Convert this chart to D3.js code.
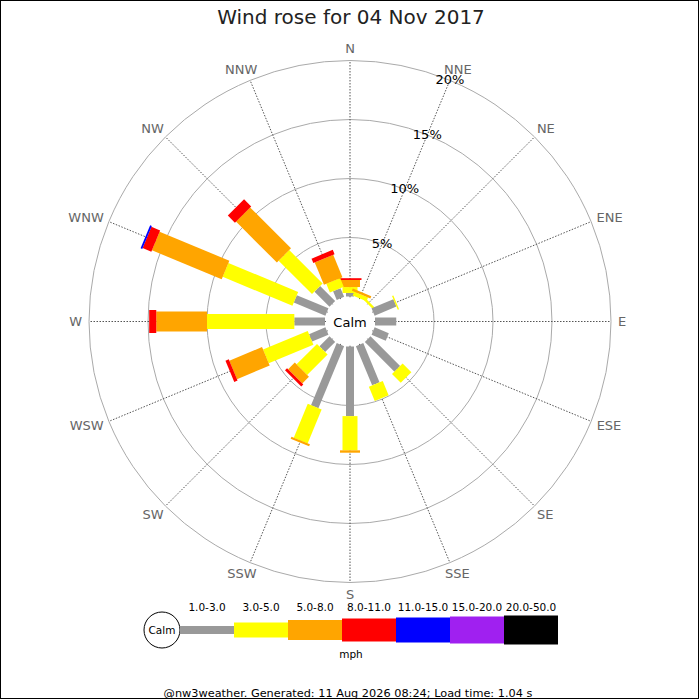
<!DOCTYPE html>
<html><head><meta charset="utf-8">
<script src="https://cdn.jsdelivr.net/npm/d3@7"></script>
<style>body{margin:0;background:#fff}svg{display:block;font-family:"DejaVu Sans",sans-serif}</style>
</head><body><svg id="c" width="700" height="700"></svg>
<script>
const directions = ["N","NNE","NE","ENE","E","ESE","SE","SSE","S","SSW","SW","WSW","W","WNW","NW","NNW"];
const speedBins = ["1.0-3.0","3.0-5.0","5.0-8.0","8.0-11.0","11.0-15.0","15.0-20.0","20.0-50.0"];
const binColors = ["#999999","#ffff00","#ffa500","#ff0000","#0000ff","#a020f0","#000000"];
const binWidths = [8,15,20,23,25,27,29];
// percentage of time per direction, per speed bin
const bin1_3   = [0.3,0,0,2.0,1.8,1.3,3.55,3.6,5.9,5.7,1.2,1.5,2.6,2.9,1.8,0.8];
const bin3_5   = [0.5,0.35,0.2,0.12,0,0,1.05,1.3,2.9,3.1,2.45,4.1,7.4,6.4,4.0,0.8];
const bin5_8   = [0.6,0.2,0,0,0,0,0,0,0.2,0.18,0.8,3.0,4.3,6.4,4.9,2.05];
const bin8_11  = [0.15,0,0,0,0,0,0,0,0,0,0.25,0.3,0.6,0.8,0.85,0.4];
const bin11_15 = [0,0,0,0,0,0,0,0,0,0,0,0,0,0.15,0,0];
const bin15_20 = [0,0,0,0,0,0,0,0,0,0,0,0,0,0,0,0];
const bin20_50 = [0,0,0,0,0,0,0,0,0,0,0,0,0,0,0,0];
const ringTicks = [5,10,15,20];
const titleText = "Wind rose for 04 Nov 2017";
const footerText = "@nw3weather. Generated: 11 Aug 2026 08:24; Load time: 1.04 s";

const series = [bin1_3,bin3_5,bin5_8,bin8_11,bin11_15,bin15_20,bin20_50];
const svg = d3.select("#c");
const cx = 350, cy = 321.5;
const r = d3.scaleLinear().domain([0,20]).range([25,261]);
const angle = d3.scaleLinear().domain([0,directions.length]).range([0,360]);
const rad = a => a*Math.PI/180;

svg.append("rect").attr("x",0.5).attr("y",0.5).attr("width",698).attr("height",698)
  .attr("fill","#fff").attr("stroke","#000").attr("stroke-width",1);

svg.append("text").attr("x",351).attr("y",24).attr("text-anchor","middle")
  .attr("font-size",20).attr("fill","#222").text(titleText);

const g = svg.append("g").attr("transform",`translate(${cx},${cy})`);

g.selectAll("circle.ring").data(ringTicks).join("circle").attr("class","ring")
  .attr("r",d=>r(d)).attr("fill","none").attr("stroke","#aaa").attr("stroke-width",1);

g.selectAll("line.spoke").data(directions).join("line").attr("class","spoke")
  .attr("x1",0).attr("y1",0)
  .attr("x2",(d,i)=>r(20)*Math.sin(rad(angle(i))))
  .attr("y2",(d,i)=>-r(20)*Math.cos(rad(angle(i))))
  .attr("stroke","#555").attr("stroke-width",1).attr("stroke-dasharray","1.5,1.5");

// bars
const segs = [];
directions.forEach((d,i)=>{
  let cum = 0;
  series.forEach((s,b)=>{
    const v = s[i];
    if(v>0){ segs.push({i,b,lo:cum,hi:cum+v}); }
    cum += v;
  });
});
g.selectAll("rect.bar").data(segs).join("rect").attr("class","bar")
  .attr("transform",d=>`rotate(${angle(d.i)})`)
  .attr("x",d=>-binWidths[d.b]/2).attr("width",d=>binWidths[d.b])
  .attr("y",d=>-r(d.hi)).attr("height",d=>r(d.hi)-r(d.lo))
  .attr("fill",d=>binColors[d.b]);

g.append("circle").attr("r",24).attr("fill","#fff");
g.append("text").attr("y",5).attr("text-anchor","middle").attr("font-size",13).attr("fill","#000").text("Calm");

// direction labels
const dl = g.selectAll("text.dir").data(directions).join("text").attr("class","dir")
  .attr("font-size",13).attr("fill","#666").attr("text-anchor","middle").text(d=>d);
dl.each(function(d,i){
  const a = rad(angle(i));
  const w = this.getComputedTextLength();
  const x = 268*Math.sin(a) + (w/2)*Math.sin(a);
  const y = -268*Math.cos(a) - 5*Math.cos(a);
  d3.select(this).attr("x",x).attr("y",y+4.5);
});

// percent labels along NNE
g.selectAll("text.pct").data(ringTicks).join("text").attr("class","pct")
  .attr("font-size",13).attr("fill","#000").attr("text-anchor","middle")
  .attr("x",d=>r(d)*Math.sin(rad(angle(1))))
  .attr("y",d=>-r(d)*Math.cos(rad(angle(1)))+4)
  .text(d=>d+"%");

// legend
const lg = svg.append("g");
const lx = d3.scaleBand().domain(speedBins).range([180,558]);
lg.append("circle").attr("cx",162).attr("cy",630).attr("r",18).attr("fill","#fff").attr("stroke","#000");
lg.append("text").attr("x",162).attr("y",634).attr("text-anchor","middle").attr("font-size",10.5).text("Calm");
lg.selectAll("rect").data(speedBins).join("rect")
  .attr("x",d=>lx(d)).attr("width",lx.bandwidth())
  .attr("y",(d,i)=>630-binWidths[i]/2).attr("height",(d,i)=>binWidths[i])
  .attr("fill",(d,i)=>binColors[i]);
lg.selectAll("text.lab").data(speedBins).join("text").attr("class","lab")
  .attr("x",d=>lx(d)+lx.bandwidth()/2).attr("y",611).attr("text-anchor","middle")
  .attr("font-size",10.5).text(d=>d);
lg.append("text").attr("x",351).attr("y",658).attr("text-anchor","middle").attr("font-size",10.5).text("mph");

svg.append("text").attr("x",348).attr("y",697).attr("text-anchor","middle")
  .attr("font-size",11.3).attr("fill","#000").text(footerText);
</script></body></html>
